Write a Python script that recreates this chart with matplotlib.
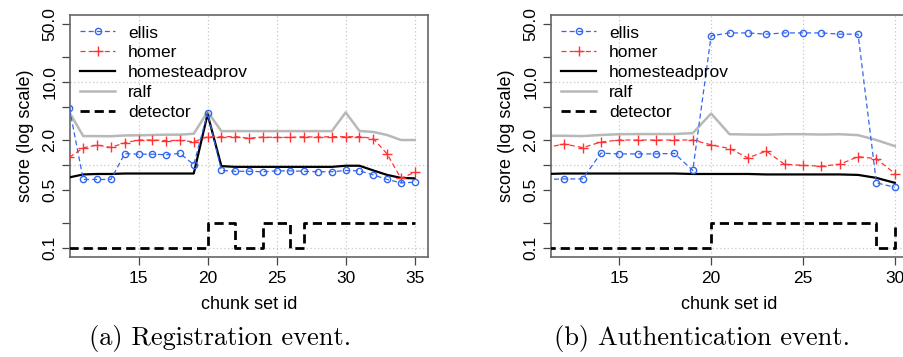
import numpy as np
import matplotlib
matplotlib.use("Agg")
import matplotlib.pyplot as plt

plt.rcParams['font.family'] = ['Liberation Sans', 'DejaVu Sans']

# ---------------- data ----------------
# (a) Registration event
reg_x = list(range(10, 36))
reg_ellis = [4.8, 0.67, 0.67, 0.67, 1.37, 1.35, 1.35, 1.33, 1.38, 1.01,
             4.25, 0.86, 0.84, 0.84, 0.83, 0.85, 0.85, 0.84, 0.83, 0.83,
             0.86, 0.85, 0.76, 0.67, 0.61, 0.62]
reg_homer = [1.24, 1.61, 1.74, 1.63, 1.85, 2.0, 2.0, 1.97, 1.98, 1.9,
             2.19, 2.19, 2.2, 2.1, 2.17, 2.15, 2.15, 2.19, 2.17, 2.2,
             2.19, 2.2, 2.08, 1.36, 0.69, 0.82]
reg_homestead = [0.71, 0.77, 0.78, 0.78, 0.79, 0.79, 0.79, 0.79, 0.79, 0.79,
                 4.09, 0.97, 0.95, 0.95, 0.95, 0.95, 0.95, 0.95, 0.95, 0.95,
                 0.98, 0.98, 0.86, 0.76, 0.70, 0.69]
reg_ralf = [4.3, 2.23, 2.23, 2.22, 2.27, 2.28, 2.3, 2.32, 2.32, 2.38,
            4.38, 2.56, 2.56, 2.56, 2.56, 2.56, 2.56, 2.56, 2.56, 2.56,
            4.3, 2.57, 2.5, 2.3, 2.0, 2.0]
reg_detector = [0.1, 0.1, 0.1, 0.1, 0.1, 0.1, 0.1, 0.1, 0.1, 0.1,
                0.2, 0.2, 0.1, 0.1, 0.2, 0.2, 0.1, 0.2, 0.2, 0.2,
                0.2, 0.2, 0.2, 0.2, 0.2, 0.2]
reg_xrange = (11, 35)

# (b) Authentication event
auth_x = list(range(11, 31))
auth_ellis = [0.67, 0.68, 0.68, 1.39, 1.36, 1.36, 1.36, 1.38, 0.86,
              36.0, 39.0, 39.0, 37.7, 39.0, 39.0, 39.0, 37.7, 37.7,
              0.61, 0.54]
auth_homer = [1.62, 1.79, 1.62, 1.89, 2.0, 2.0, 2.0, 2.0, 2.0,
              1.75, 1.58, 1.22, 1.47, 1.02, 0.99, 0.97, 1.02, 1.26,
              1.19, 0.79]
auth_homestead = [0.78, 0.79, 0.79, 0.79, 0.79, 0.79, 0.79, 0.79, 0.78,
                  0.78, 0.78, 0.78, 0.77, 0.77, 0.77, 0.77, 0.77, 0.76,
                  0.70, 0.61]
auth_ralf = [2.25, 2.25, 2.23, 2.3, 2.35, 2.36, 2.36, 2.36, 2.42,
             4.17, 2.35, 2.33, 2.32, 2.35, 2.35, 2.33, 2.35, 2.29,
             2.0, 1.69]
auth_detector = [0.1, 0.1, 0.1, 0.1, 0.1, 0.1, 0.1, 0.1, 0.1,
                 0.2, 0.2, 0.2, 0.2, 0.2, 0.2, 0.2, 0.2, 0.2,
                 0.1, 0.2]
auth_xrange = (12, 30)

y_ticks = [0.1, 0.2, 0.5, 1, 2, 5, 10, 20, 50]
y_ticklabels = ['0.1', '', '0.5', '', '2.0', '', '10.0', '', '50.0']
y_grid = [0.1, 1, 10]
y_range = (0.1, 50)

series_names = ['ellis', 'homer', 'homesteadprov', 'ralf', 'detector']
captions = ['(a) Registration event.', '(b) Authentication event.']

# ---------------- figure ----------------
W, H = 904, 357
fig = plt.figure(figsize=(W / 100, H / 100), dpi=100)

def px_axes(x0, x1, y0, y1):
    return [x0 / W, 1 - y1 / H, (x1 - x0) / W, (y1 - y0) / H]

ax_a = fig.add_axes(px_axes(70, 428, 15, 257))
ax_b = fig.add_axes(px_axes(551, 908, 15, 257))

frame_col = '#666666'

def draw(ax, x, ellis, homer, homestead, ralf, detector, xr, xticks):
    ax.set_yscale('log')
    pad = 0.04 * (xr[1] - xr[0])
    ax.set_xlim(xr[0] - pad, xr[1] + pad)
    lo, hi = np.log10(y_range[0]), np.log10(y_range[1])
    lp = 0.04 * (hi - lo)
    ax.set_ylim(10 ** (lo - lp), 10 ** (hi + lp))

    for xv in xticks:
        ax.axvline(xv, color='#c8c8c8', lw=0.9, ls=(0, (1, 2)), zorder=0)
    for yv in y_grid:
        ax.axhline(yv, color='#c8c8c8', lw=0.9, ls=(0, (1, 2)), zorder=0)

    ax.plot(x, ralf, color='#b8b8b8', lw=1.8, label=series_names[3], zorder=2)
    ax.plot(x, homestead, color='black', lw=1.6, label=series_names[2], zorder=3)
    ax.plot(x, homer, color='#ff3333', lw=0.9, ls=(0, (4, 2.5)), marker='+',
            ms=7, mew=1.0, label=series_names[1], zorder=4)
    ax.plot(x, ellis, color='#3366ee', lw=0.9, ls=(0, (4, 2.5)), marker='o',
            ms=4.5, mfc='none', mew=1.0, label=series_names[0], zorder=5)
    ax.step(x, detector, where='post', color='black', lw=2.0,
            ls=(0, (3.3, 1.8)), label=series_names[4], zorder=4)

    ax.set_xticks(xticks)
    ax.set_xticklabels([str(v) for v in xticks])
    ax.yaxis.set_minor_locator(matplotlib.ticker.NullLocator())
    ax.set_yticks(y_ticks)
    ax.set_yticklabels(y_ticklabels, rotation=90, va='center')
    ax.tick_params(axis='both', direction='out', length=6, width=0.9,
                   colors='#444444', labelcolor='black', labelsize=12.5, pad=4)
    ax.tick_params(axis='y', pad=3)
    for s in ax.spines.values():
        s.set_color(frame_col)
        s.set_linewidth(1.2)
    ax.set_xlabel('chunk set id', fontsize=13, labelpad=7)
    ax.set_ylabel('score (log scale)', fontsize=13, labelpad=6)

    h, l = ax.get_legend_handles_labels()
    order = [l.index(n) for n in series_names]
    ax.legend([h[i] for i in order], [l[i] for i in order], loc='upper left',
              bbox_to_anchor=(0.0, 1.0), frameon=False, fontsize=12.5,
              handlelength=2.0, handletextpad=0.75, labelspacing=0.27,
              borderaxespad=0.25, borderpad=0.35)

draw(ax_a, reg_x, reg_ellis, reg_homer, reg_homestead, reg_ralf, reg_detector,
     reg_xrange, [15, 20, 25, 30, 35])
draw(ax_b, auth_x, auth_ellis, auth_homer, auth_homestead, auth_ralf, auth_detector,
     auth_xrange, [15, 20, 25, 30])

fig.text(220 / W, 1 - 339 / H, captions[0], family=['cmr10', 'DejaVu Serif'],
         fontsize=19, ha='center', va='center')
fig.text(702 / W, 1 - 339 / H, captions[1], family=['cmr10', 'DejaVu Serif'],
         fontsize=19, ha='center', va='center')

fig.savefig('out.png', dpi=100)
